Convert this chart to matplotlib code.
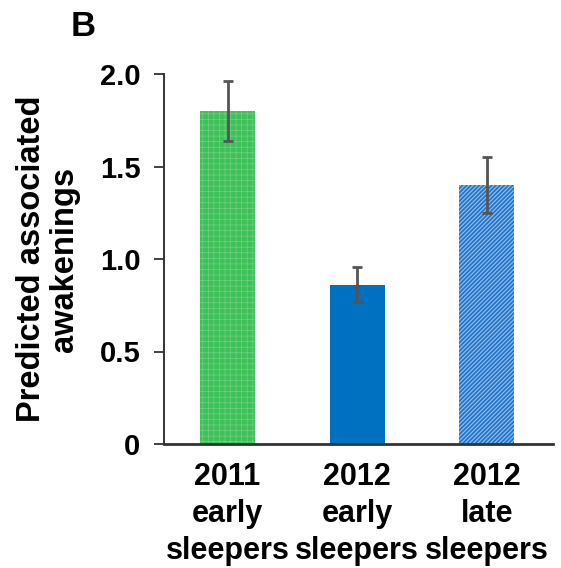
import numpy as np
import matplotlib
matplotlib.use('Agg')
import matplotlib.pyplot as plt
import matplotlib as mpl

mpl.rcParams['font.family'] = ['Liberation Sans', 'DejaVu Sans']
mpl.rcParams['font.weight'] = 'bold'

groups = ['2011\nearly\nsleepers', '2012\nearly\nsleepers', '2012\nlate\nsleepers']
means = [1.80, 0.86, 1.40]
errs = [0.16, 0.095, 0.15]
yticks = [0, 0.5, 1.0, 1.5, 2.0]
ytick_labels = ['0', '0.5', '1.0', '1.5', '2.0']

fill_cols = ['#3dc158', '#0070c0', '#1f73c8']
hatch_cols = ['#6fd283', '#0070c0', '#8fbbea']
hatches = ['+++', '', '////////']

fig = plt.figure(figsize=(5.61, 5.68), dpi=100)
ax = fig.add_axes([164/561, 1-444/568, (553-164)/561, (444-74)/568])

x = np.arange(len(groups))
for i in range(len(groups)):
    mpl.rcParams['hatch.linewidth'] = 0.5 if i == 0 else 0.9
    ax.bar(x[i], means[i], width=0.425, color=fill_cols[i],
           edgecolor=hatch_cols[i], linewidth=0, hatch=hatches[i] or None, zorder=2)
ax.errorbar(x, means, yerr=errs, fmt='none', ecolor='#555555', elinewidth=2,
            capsize=3.6, capthick=2, zorder=3)

ax.set_xlim(-0.49, 2.51)
ax.set_ylim(0, 2.0)
ax.set_yticks(yticks)
ax.set_yticklabels(ytick_labels)
ax.set_xticks(x)
ax.set_xticklabels(groups, linespacing=1.3)
ax.tick_params(axis='y', labelsize=21, length=7, width=1.3, color='#333333', pad=10)
ax.tick_params(axis='x', labelsize=22, length=0, pad=13)

for s in ['top', 'right']:
    ax.spines[s].set_visible(False)
ax.spines['left'].set_linewidth(1.4)
ax.spines['left'].set_color('#333333')
ax.spines['bottom'].set_linewidth(2)
ax.spines['bottom'].set_color('#333333')

ax.set_ylabel('Predicted associated\nawakenings', fontsize=23.5, fontweight='bold',
              linespacing=1.1, labelpad=14)

fig.text(71/561, 1-26/568, 'B', fontsize=25, fontweight='bold', ha='left', va='center')

fig.savefig('out.png', dpi=100)
